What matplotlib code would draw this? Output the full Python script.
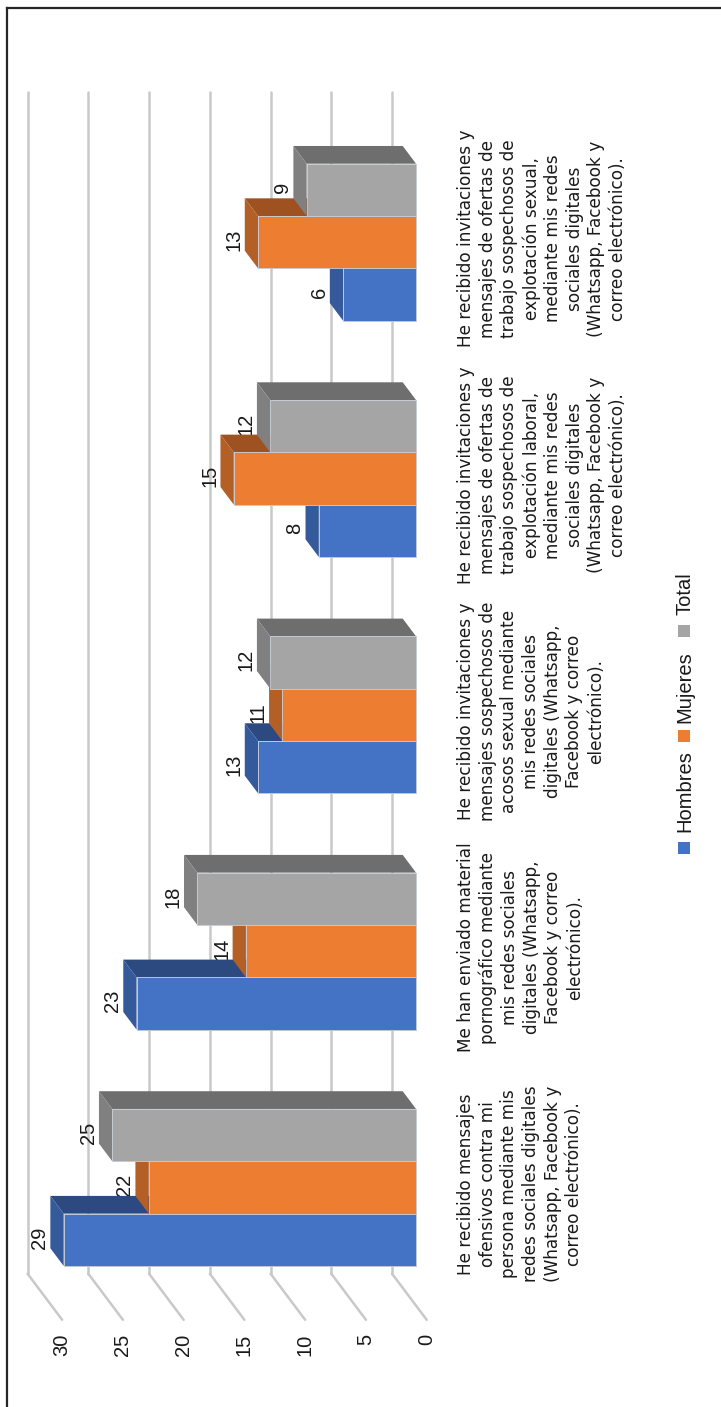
import matplotlib.pyplot as plt
from matplotlib.patches import Polygon, Rectangle
from matplotlib.lines import Line2D

# Survey answers per question (Hombres / Mujeres / Total)
categories = [
    'He recibido mensajes\nofensivos contra mi\npersona mediante mis\nredes sociales digitales\n(Whatsapp, Facebook y\ncorreo electrónico).',
    'Me han enviado material\npornográfico mediante\nmis redes sociales\ndigitales (Whatsapp,\nFacebook y correo\nelectrónico).',
    'He recibido invitaciones y\nmensajes sospechosos de\nacosos sexual mediante\nmis redes sociales\ndigitales (Whatsapp,\nFacebook y correo\nelectrónico).',
    'He recibido invitaciones y\nmensajes de ofertas de\ntrabajo sospechosos de\nexplotación laboral,\nmediante mis redes\nsociales digitales\n(Whatsapp, Facebook y\ncorreo electrónico).',
    'He recibido invitaciones y\nmensajes de ofertas de\ntrabajo sospechosos de\nexplotación sexual,\nmediante mis redes\nsociales digitales\n(Whatsapp, Facebook y\ncorreo electrónico).',
]
series_names = ['Hombres', 'Mujeres', 'Total']
hombres = [29, 23, 13, 8, 6]
mujeres = [22, 14, 11, 15, 13]
total = [25, 18, 12, 12, 9]
value_ticks = [0, 5, 10, 15, 20, 25, 30]

front_colors = ['#4472c4', '#ed7d31', '#a5a5a5']
end_colors = ['#345a9b', '#b45f25', '#808080']
top_colors = ['#2c4a80', '#9e5121', '#6e6e6e']

# oblique 3D projection: one unit of depth moves a point this much in data units
DX, DY = 1.095, 0.075
BAR_W = 0.2215
Z_FRONT, Z_BACK = -0.8, 1.8


def proj(v, c, z):
    return (v + z * DX, c + z * DY)


fig = plt.figure(figsize=(7.21, 14.07), dpi=100)
ax = fig.add_axes([0, 0, 1, 1])
ax.set_xlim(34.24, -25.10)
ax.set_ylim(-0.929, 5.025)
ax.axis('off')

# walls: back gridlines plus the diagonals on the side wall
for v in value_ticks:
    p0 = proj(v, -0.5, Z_BACK)
    p1 = proj(v, len(categories) - 0.5, Z_BACK)
    p2 = proj(v, -0.5, Z_FRONT)
    ax.plot([p0[0], p1[0]], [p0[1], p1[1]], color='#c9c9c9', lw=1.8, zorder=1,
            solid_capstyle='round')
    ax.plot([p0[0], p2[0]], [p0[1], p2[1]], color='#c9c9c9', lw=1.8, zorder=1,
            solid_capstyle='round')
    ax.text(v + Z_FRONT * DX, -0.62, str(v), rotation=90, ha='center', va='top',
            fontsize=14.5, family='Liberation Sans', color='#1a1a1a')

# bars, drawn series by series so the upper bar hides the lower one's top face
data = [hombres, mujeres, total]
zo = 3
for i in range(len(categories)):
    for j, vals in enumerate(data):
        v = vals[i]
        y0 = i - 1.5 * BAR_W + j * BAR_W
        y1 = y0 + BAR_W
        front = [(0, y0), (v, y0), (v, y1), (0, y1)]
        end = [proj(v, y0, 0), proj(v, y1, 0), proj(v, y1, 1), proj(v, y0, 1)]
        top = [proj(0, y1, 0), proj(v, y1, 0), proj(v, y1, 1), proj(0, y1, 1)]
        ax.add_patch(Polygon(top, closed=True, fc=top_colors[j], ec='none', zorder=zo))
        ax.add_patch(Polygon(end, closed=True, fc=end_colors[j], ec='none', zorder=zo))
        ax.add_patch(Polygon(front, closed=True, fc=front_colors[j], ec='#c5cbd6',
                             lw=0.6, zorder=zo + 0.5))
        ax.text(v + DX + 0.1, (y0 + y1) / 2 + 0.01, str(v), rotation=90,
                ha='right', va='center', fontsize=14.5, family='Liberation Sans',
                color='#1a1a1a', zorder=2)
        zo += 1

# category labels under the floor
for i, lab in enumerate(categories):
    ax.text(-3.37, i + 0.015, lab, rotation=90, ha='left', va='center',
            multialignment='center', fontsize=12.2, linespacing=1.26,
            family='DejaVu Sans', color='#1a1a1a')

# legend
W, H = 721.0, 1407.0
legend_items = [(847.5, 791.5), (736, 687.5), (631, 594)]
for j, (sq_y, txt_y) in enumerate(legend_items):
    ax.add_patch(Rectangle((678 / W, 1 - (sq_y + 6) / H), 12 / W, 12 / H,
                           transform=ax.transAxes, fc=front_colors[j], ec='none'))
    ax.text(685 / W, 1 - txt_y / H, series_names[j], transform=ax.transAxes,
            rotation=90, ha='center', va='center', fontsize=14.5,
            family='Liberation Sans', color='#1a1a1a')

# frame edges
fig.add_artist(Line2D([7 / W, 1], [1 - 8 / H, 1 - 8 / H], color='#262626', lw=1.6))
fig.add_artist(Line2D([7 / W, 7 / W], [0, 1 - 8 / H], color='#262626', lw=1.6))

fig.savefig('out.png', dpi=100, facecolor='white')
